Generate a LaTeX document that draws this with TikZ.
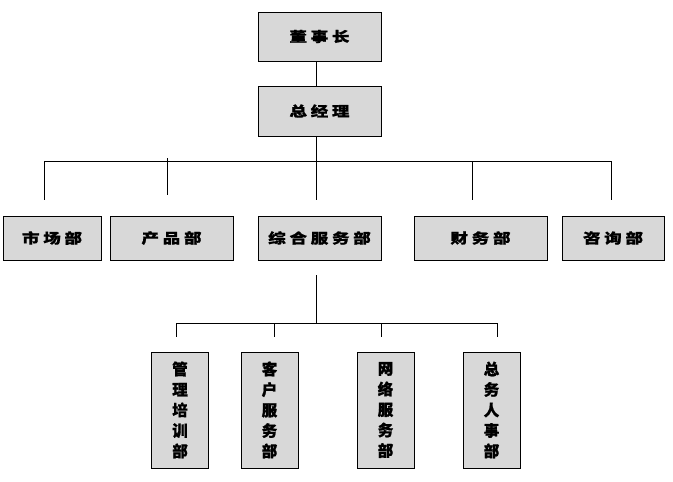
\documentclass[tikz,border=0pt]{standalone}
\usepackage{fontspec}
\usepackage{graphicx}
\newfontfamily\cjk{Noto Sans CJK SC}[BoldFeatures={FakeBold=1}]
\definecolor{boxgray}{RGB}{216,216,216}
\newcommand\gapk{\kern3pt}
\newcommand\hs[1]{\scalebox{1.25}[1]{#1}}
\tikzset{
  box/.style={draw=black, fill=boxgray, line width=0.9pt, inner sep=0pt,
    font=\cjk\bfseries\fontsize{14}{16}\selectfont},
  vbox/.style={draw=black, fill=boxgray, line width=0.9pt, inner sep=0pt,
    align=center, minimum width=57pt, minimum height=116pt,
    font=\cjk\bfseries\fontsize{15.5}{20.5}\selectfont},
  conn/.style={draw=black, line width=0.8pt}
}
\begin{document}
\begin{tikzpicture}[x=1pt,y=-1pt]
\useasboundingbox (0,0) rectangle (673,482);
% top
\node[box, minimum width=123pt, minimum height=49pt] (dsz) at (319.5,36.5) {\hs{董\gapk 事\gapk 长}};
\node[box, minimum width=123pt, minimum height=50pt] (zjl) at (319.5,111) {\hs{总\gapk 经\gapk 理}};
% second row
\node[box, minimum width=98pt, minimum height=44pt] (scb) at (52,238) {\hs{市\gapk 场\gapk 部}};
\node[box, minimum width=123pt, minimum height=44pt] (cpb) at (171.5,238) {\hs{产\gapk 品\gapk 部}};
\node[box, minimum width=123pt, minimum height=44pt] (zhfw) at (319.5,238) {\hs{综\gapk 合\gapk 服\gapk 务\gapk 部}};
\node[box, minimum width=133pt, minimum height=44pt] (cwb) at (480.5,238) {\hs{财\gapk 务\gapk 部}};
\node[box, minimum width=102pt, minimum height=44pt] (zxb) at (613,238) {\hs{咨\gapk 询\gapk 部}};
% third row
\node[vbox] (glpx) at (180,410) {管\\理\\培\\训\\部};
\node[vbox] (khfw) at (269.5,410) {客\\户\\服\\务\\部};
\node[vbox] (wlfw) at (385.5,410) {网\\络\\服\\务\\部};
\node[vbox] (zwrs) at (491.5,410) {总\\务\\人\\事\\部};
% connector points
\coordinate (sp) at (316,0);
\coordinate (b1) at (44,161);  \coordinate (e1) at (44,200);
\coordinate (b2) at (167,161); \coordinate (t2) at (167,158); \coordinate (e2) at (167,195);
\coordinate (b3) at (316,161); \coordinate (e3) at (316,200);
\coordinate (b4) at (472,161); \coordinate (e4) at (472,200);
\coordinate (b5) at (611,161); \coordinate (e5) at (611,200);
\coordinate (c0) at (316,275); \coordinate (c1) at (316,323);
\coordinate (f1) at (176,323); \coordinate (g1) at (176,337);
\coordinate (f2) at (274,323); \coordinate (g2) at (274,337);
\coordinate (f3) at (381,323); \coordinate (g3) at (381,337);
\coordinate (f4) at (497,323); \coordinate (g4) at (497,337);
% connectors
\draw[conn] (dsz.south -| sp) -- (zjl.north -| sp);
\draw[conn] (zjl.south -| sp) -- (b3);
\draw[conn] (b1) -- (b5);
\draw[conn] (b1) -- (e1);
\draw[conn] (t2) -- (e2);
\draw[conn] (b3) -- (e3);
\draw[conn] (b4) -- (e4);
\draw[conn] (b5) -- (e5);
\draw[conn] (c0) -- (c1);
\draw[conn] (f1) -- (f4);
\draw[conn] (f1) -- (g1);
\draw[conn] (f2) -- (g2);
\draw[conn] (f3) -- (g3);
\draw[conn] (f4) -- (g4);
\end{tikzpicture}
\end{document}
